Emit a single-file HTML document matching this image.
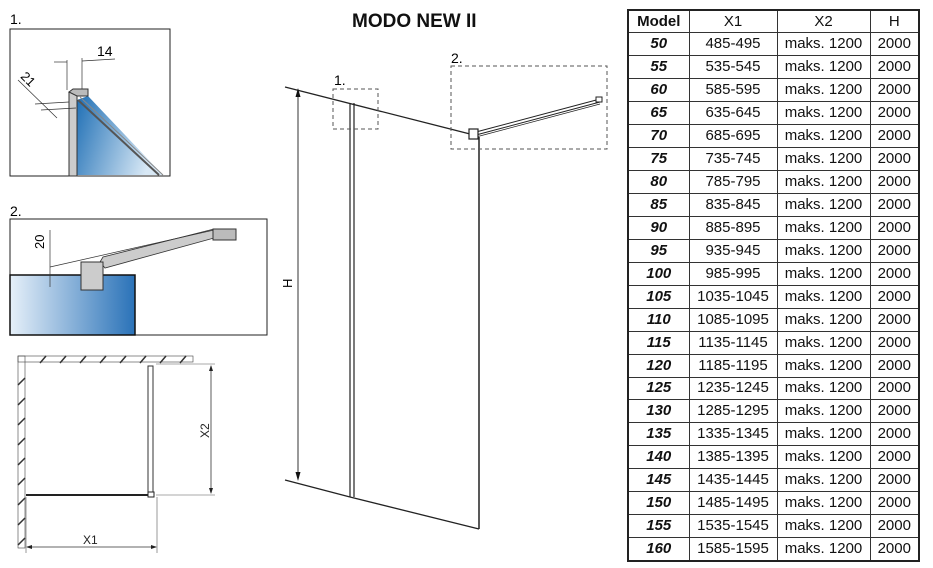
<!DOCTYPE html>
<html><head><meta charset="utf-8"><style>
html,body{margin:0;padding:0;background:#fff;width:933px;height:568px;overflow:hidden;font-family:"Liberation Sans",sans-serif}
svg{position:absolute;left:0;top:0}
table{position:absolute;left:627px;top:9px;width:293px;border-collapse:collapse;border:2px solid #222;font-size:15px;color:#111}
td{border:1.5px solid #333;text-align:center;padding:0;height:22.95px;line-height:18px;box-sizing:border-box}
td:first-child{font-weight:bold;font-style:italic;width:61px}
tr:first-child td{font-style:normal;font-weight:bold}
tr:first-child td:not(:first-child){font-weight:normal}
td:nth-child(2){width:88px}td:nth-child(3){width:93px}
</style></head><body>
<svg width="933" height="568" viewBox="0 0 933 568">
<defs>
<linearGradient id="g1" x1="0" y1="0" x2="1" y2="0.3"><stop offset="0" stop-color="#1f6fb5"/><stop offset="1" stop-color="#d8e8f5"/></linearGradient>
<linearGradient id="g2" x1="0" y1="0" x2="1" y2="0"><stop offset="0" stop-color="#e6f0f9"/><stop offset="1" stop-color="#2a72b8"/></linearGradient>
</defs>
<text x="352" y="27" font-size="19" font-weight="bold" fill="#111">MODO NEW  II</text>
<text x="10" y="24" font-size="14">1.</text>
<rect x="10" y="29" width="160" height="147" fill="#fff" stroke="#222" stroke-width="1"/>
<polygon points="77,100 88,96 163,175 77,175" fill="url(#g1)"/>
<line x1="78" y1="100" x2="159" y2="175" stroke="#555" stroke-width="2"/>
<line x1="80" y1="97" x2="163" y2="175" stroke="#888" stroke-width="1"/>
<rect x="69" y="92" width="8" height="84" fill="#ccc" stroke="#333"/>
<polygon points="69,92 73,89 88,89 88,96 77,96" fill="#bbb" stroke="#333"/>
<line x1="67" y1="60" x2="67" y2="90" stroke="#333" stroke-width="0.7"/>
<line x1="82" y1="58" x2="82" y2="89" stroke="#333" stroke-width="0.7"/>
<line x1="54" y1="62" x2="67" y2="62" stroke="#333" stroke-width="0.7"/>
<line x1="82" y1="61" x2="115" y2="59" stroke="#333" stroke-width="0.7"/>
<text x="97" y="56" font-size="14">14</text>
<line x1="18" y1="80" x2="57" y2="118" stroke="#333" stroke-width="0.7"/>
<line x1="35" y1="104" x2="69" y2="102" stroke="#333" stroke-width="0.7"/>
<line x1="41" y1="110" x2="76" y2="108" stroke="#333" stroke-width="0.7"/>
<text x="20" y="83" font-size="13" transform="rotate(45 27 80)">21</text>
<text x="10" y="216" font-size="14">2.</text>
<rect x="10" y="219" width="257" height="116" fill="#fff" stroke="#222" stroke-width="1"/>
<rect x="10" y="275" width="125" height="60" fill="url(#g2)" stroke="#111" stroke-width="1.5"/>
<polygon points="100,262 103,257 214,229 236,229 236,238 214,238 105,268" fill="#ccc" stroke="#333" stroke-width="0.8"/>
<line x1="50" y1="267" x2="214" y2="230" stroke="#333" stroke-width="0.7"/>
<rect x="213" y="229" width="23" height="11" fill="#bbb" stroke="#333"/>
<rect x="81" y="262" width="22" height="28" fill="#ccc" stroke="#333"/>
<line x1="50" y1="230" x2="50" y2="287" stroke="#333" stroke-width="0.7"/>
<text x="44" y="249" font-size="13" transform="rotate(-90 44 249)">20</text>
<rect x="18" y="356" width="175" height="6" fill="none" stroke="#444" stroke-width="0.6"/>
<rect x="18" y="356" width="7" height="192" fill="none" stroke="#444" stroke-width="0.6"/>
<g stroke="#333" stroke-width="1.5">
<line x1="40" y1="363" x2="46" y2="356"/><line x1="60" y1="363" x2="66" y2="356"/><line x1="80" y1="363" x2="86" y2="356"/><line x1="100" y1="363" x2="106" y2="356"/><line x1="120" y1="363" x2="126" y2="356"/><line x1="140" y1="363" x2="146" y2="356"/><line x1="160" y1="363" x2="166" y2="356"/><line x1="180" y1="363" x2="186" y2="356"/>
<line x1="18" y1="385" x2="25" y2="378"/><line x1="18" y1="405" x2="25" y2="398"/><line x1="18" y1="425" x2="25" y2="418"/><line x1="18" y1="445" x2="25" y2="438"/><line x1="18" y1="465" x2="25" y2="458"/><line x1="18" y1="485" x2="25" y2="478"/><line x1="18" y1="505" x2="25" y2="498"/><line x1="18" y1="525" x2="25" y2="518"/><line x1="18" y1="545" x2="25" y2="538"/>
</g>
<line x1="26" y1="495" x2="150" y2="495" stroke="#222" stroke-width="2"/>
<rect x="148" y="366" width="5" height="128" fill="none" stroke="#333" stroke-width="1"/>
<rect x="148" y="492" width="6" height="5" fill="#fff" stroke="#222"/>
<line x1="156" y1="364" x2="215" y2="364" stroke="#555" stroke-width="0.6"/>
<line x1="156" y1="495" x2="215" y2="495" stroke="#555" stroke-width="0.6"/>
<line x1="211" y1="366" x2="211" y2="493" stroke="#333" stroke-width="0.8"/>
<polygon points="211,365 209,371 213,371" fill="#222"/><polygon points="211,494 209,488 213,488" fill="#222"/>
<text x="209" y="438" font-size="12" transform="rotate(-90 209 438)" fill="#222">X2</text>
<line x1="26" y1="497" x2="26" y2="553" stroke="#555" stroke-width="0.6"/>
<line x1="157" y1="497" x2="157" y2="553" stroke="#555" stroke-width="0.6"/>
<line x1="27" y1="547" x2="156" y2="547" stroke="#333" stroke-width="0.8"/>
<polygon points="26,547 32,545 32,549" fill="#222"/><polygon points="157,547 151,545 151,549" fill="#222"/>
<text x="83" y="544" font-size="12" fill="#222">X1</text>
<line x1="285" y1="87" x2="470" y2="134" stroke="#222" stroke-width="1.3"/>
<line x1="285" y1="480" x2="350" y2="497" stroke="#222" stroke-width="1.3"/>
<line x1="350" y1="497" x2="479" y2="529" stroke="#222" stroke-width="1.3"/>
<line x1="350" y1="103" x2="350" y2="497" stroke="#222" stroke-width="1.2"/>
<line x1="354" y1="103" x2="354" y2="497" stroke="#222" stroke-width="1.2"/>
<line x1="479" y1="137" x2="479" y2="529" stroke="#222" stroke-width="1.5"/>
<line x1="298" y1="92" x2="298" y2="478" stroke="#333" stroke-width="1"/>
<polygon points="298,88 295.5,97 300.5,97" fill="#111"/><polygon points="298,481 295.5,472 300.5,472" fill="#111"/>
<text x="292" y="288" font-size="13" transform="rotate(-90 292 288)">H</text>
<line x1="476" y1="132" x2="600" y2="99" stroke="#222" stroke-width="1"/>
<line x1="476" y1="135" x2="600" y2="102" stroke="#222" stroke-width="1"/>
<line x1="476" y1="137" x2="600" y2="104" stroke="#222" stroke-width="0.7"/>
<rect x="596" y="97" width="6" height="5" fill="#fff" stroke="#222"/>
<rect x="469" y="129" width="9" height="10" fill="#fff" stroke="#222" stroke-width="1.2"/>
<rect x="333" y="89" width="45" height="40" fill="none" stroke="#555" stroke-dasharray="4,3"/>
<text x="334" y="85" font-size="14">1.</text>
<rect x="451" y="66" width="156" height="83" fill="none" stroke="#555" stroke-dasharray="4,3"/>
<text x="451" y="63" font-size="14">2.</text>
</svg>
<table>
<tr><td>Model</td><td>X1</td><td>X2</td><td>H</td></tr>
<tr><td>50</td><td>485-495</td><td>maks. 1200</td><td>2000</td></tr>
<tr><td>55</td><td>535-545</td><td>maks. 1200</td><td>2000</td></tr>
<tr><td>60</td><td>585-595</td><td>maks. 1200</td><td>2000</td></tr>
<tr><td>65</td><td>635-645</td><td>maks. 1200</td><td>2000</td></tr>
<tr><td>70</td><td>685-695</td><td>maks. 1200</td><td>2000</td></tr>
<tr><td>75</td><td>735-745</td><td>maks. 1200</td><td>2000</td></tr>
<tr><td>80</td><td>785-795</td><td>maks. 1200</td><td>2000</td></tr>
<tr><td>85</td><td>835-845</td><td>maks. 1200</td><td>2000</td></tr>
<tr><td>90</td><td>885-895</td><td>maks. 1200</td><td>2000</td></tr>
<tr><td>95</td><td>935-945</td><td>maks. 1200</td><td>2000</td></tr>
<tr><td>100</td><td>985-995</td><td>maks. 1200</td><td>2000</td></tr>
<tr><td>105</td><td>1035-1045</td><td>maks. 1200</td><td>2000</td></tr>
<tr><td>110</td><td>1085-1095</td><td>maks. 1200</td><td>2000</td></tr>
<tr><td>115</td><td>1135-1145</td><td>maks. 1200</td><td>2000</td></tr>
<tr><td>120</td><td>1185-1195</td><td>maks. 1200</td><td>2000</td></tr>
<tr><td>125</td><td>1235-1245</td><td>maks. 1200</td><td>2000</td></tr>
<tr><td>130</td><td>1285-1295</td><td>maks. 1200</td><td>2000</td></tr>
<tr><td>135</td><td>1335-1345</td><td>maks. 1200</td><td>2000</td></tr>
<tr><td>140</td><td>1385-1395</td><td>maks. 1200</td><td>2000</td></tr>
<tr><td>145</td><td>1435-1445</td><td>maks. 1200</td><td>2000</td></tr>
<tr><td>150</td><td>1485-1495</td><td>maks. 1200</td><td>2000</td></tr>
<tr><td>155</td><td>1535-1545</td><td>maks. 1200</td><td>2000</td></tr>
<tr><td>160</td><td>1585-1595</td><td>maks. 1200</td><td>2000</td></tr>
</table>
</body></html>
